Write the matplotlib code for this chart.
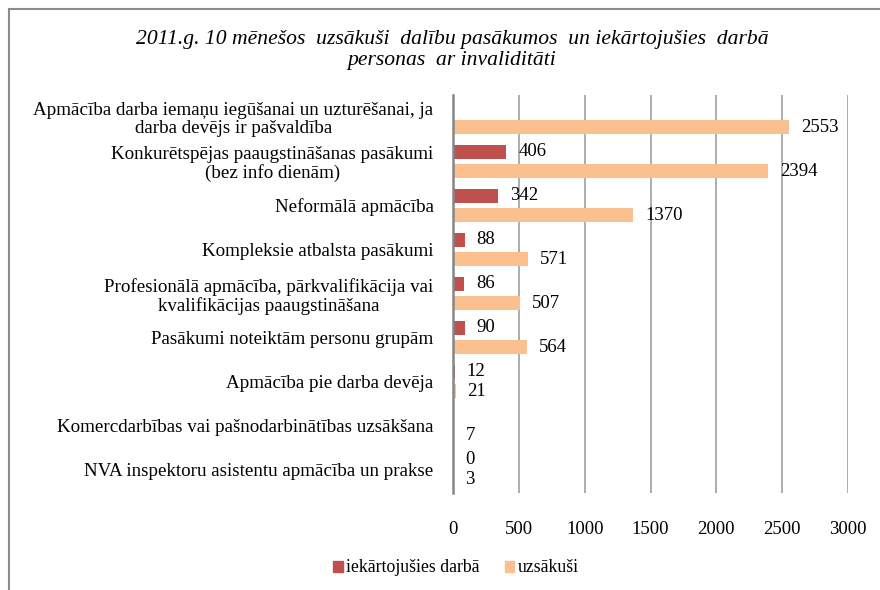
import numpy as np
import matplotlib.pyplot as plt
from matplotlib.lines import Line2D

# Data
categories = [
    'Apmācība darba iemaņu iegūšanai un uzturēšanai, ja\ndarba devējs ir pašvaldība',
    'Konkurētspējas paaugstināšanas pasākumi\n(bez info dienām)',
    'Neformālā apmācība',
    'Kompleksie atbalsta pasākumi',
    'Profesionālā apmācība, pārkvalifikācija vai\nkvalifikācijas paaugstināšana',
    'Pasākumi noteiktām personu grupām',
    'Apmācība pie darba devēja',
    'Komercdarbības vai pašnodarbinātības uzsākšana',
    'NVA inspektoru asistentu apmācība un prakse',
]
iekartojusies = [np.nan, 406, 342, 88, 86, 90, 12, np.nan, 0]
uzsakusi = [2553, 2394, 1370, 571, 507, 564, 21, 7, 3]
x_ticks = [0, 500, 1000, 1500, 2000, 2500, 3000]

title = '2011.g. 10 mēnešos  uzsākuši  dalību pasākumos  un iekārtojušies  darbā\npersonas  ar invaliditāti'

red = '#C0504D'
orange = '#FAC090'
serif = ['Liberation Serif', 'DejaVu Serif']

plt.rcParams['font.family'] = serif

fig = plt.figure(figsize=(8.8, 5.9), dpi=100)
ax = fig.add_axes([453 / 880, 1 - 493 / 590, (848 - 453) / 880, (493 - 95) / 590])

y = np.arange(len(categories))
off = 0.22
h = 0.32

red_w = np.nan_to_num(np.array(iekartojusies, dtype=float))
bars_r = ax.barh(y - off, red_w, height=h, color=red, linewidth=0, zorder=3)
bars_o = ax.barh(y + off, uzsakusi, height=h, color=orange, linewidth=0, zorder=3)

red_labels = ['' if np.isnan(v) else f'{int(v)}' for v in iekartojusies]
ax.bar_label(bars_r, labels=red_labels, padding=8.5, fontsize=13.5, color='black')
ax.bar_label(bars_o, labels=[str(v) for v in uzsakusi], padding=8.5, fontsize=13.5, color='black')

ax.set_xlim(0, 3000)
ax.set_ylim(8.53, -0.51)
ax.set_xticks(x_ticks)
ax.set_yticks(y)
ax.set_yticklabels(categories, fontsize=13.7, multialignment='center', linespacing=1.08)

ax.tick_params(axis='y', length=0, pad=14)
ax.tick_params(axis='x', length=0, pad=20, labelsize=13.5)

ax.grid(axis='x', color='#A0A0A0', linewidth=1.2, zorder=0)
for s in ['top', 'right', 'bottom']:
    ax.spines[s].set_visible(False)
ax.spines['left'].set_color('#868686')
ax.spines['left'].set_linewidth(1.8)
ax.spines['left'].set_zorder(4)

fig.text(452 / 880, 1 - 50 / 590, title, ha='center', va='center', fontsize=15.6,
         style='italic', linespacing=1.17)

handles = [plt.Rectangle((0, 0), 1, 1, color=red), plt.Rectangle((0, 0), 1, 1, color=orange)]
fig.legend(handles, ['iekārtojušies darbā', 'uzsākuši'], loc='center',
           bbox_to_anchor=(456 / 880, 1 - 568 / 590), ncol=2, frameon=False,
           fontsize=12.8, handlelength=0.55, handleheight=0.55, handletextpad=0.2,
           columnspacing=1.4)

# outer chart border (only top and left visible)
fig.add_artist(Line2D([8.5 / 880, 1], [1 - 9 / 590, 1 - 9 / 590], color='#8C8C8C', linewidth=1.5,
                      transform=fig.transFigure))
fig.add_artist(Line2D([8.5 / 880, 8.5 / 880], [0, 1 - 9 / 590], color='#8C8C8C', linewidth=1.5,
                      transform=fig.transFigure))

fig.savefig('out.png', dpi=100)
